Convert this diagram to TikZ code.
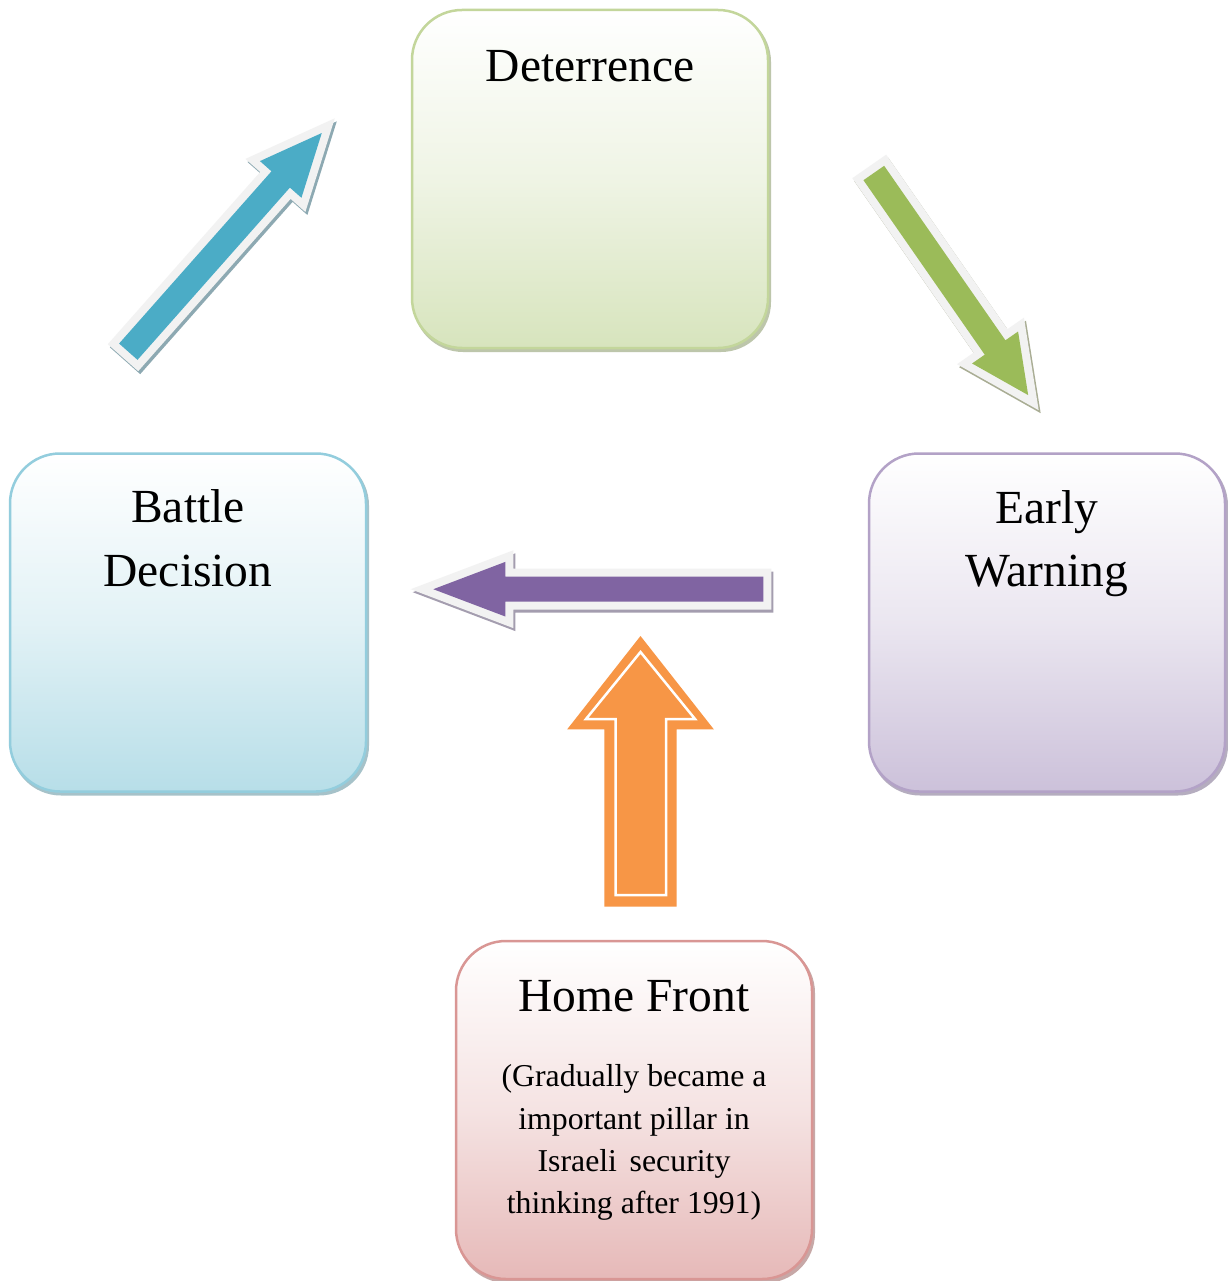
\documentclass[tikz,border=0pt]{standalone}
\usepackage{fontspec}
\setmainfont{Liberation Serif}
\definecolor{detb}{HTML}{C3D69B}
\definecolor{detf}{HTML}{D7E4BD}
\definecolor{batb}{HTML}{93CDDD}
\definecolor{batf}{HTML}{B7DEE8}
\definecolor{earb}{HTML}{B3A2C7}
\definecolor{earf}{HTML}{CCC1DA}
\definecolor{homb}{HTML}{D99694}
\definecolor{homf}{HTML}{E6B9B8}
\definecolor{arrblue}{HTML}{4BACC6}
\definecolor{arrgreen}{HTML}{9BBB59}
\definecolor{arrpurple}{HTML}{8064A2}
\definecolor{arrorange}{HTML}{F79646}
\definecolor{arrwhite}{HTML}{F2F2F2}
\definecolor{shblue}{HTML}{8DA9B2}
\definecolor{shgreen}{HTML}{A9AD94}
\definecolor{shpurple}{HTML}{A49DAF}
\tikzset{
  box/.style={rounded corners=50, line width=2.5, minimum width=356, minimum height=338, inner sep=0},
  boxshadow/.style={rounded corners=50, draw=none, minimum width=358, minimum height=340, inner sep=0},
  big/.style={font=\fontsize{47.5}{57}\selectfont, inner sep=0, anchor=base},
  small/.style={font=\fontsize{31.8}{38}\selectfont, inner sep=0, anchor=base},
}
% #1 x, #2 y (tail centre), #3 angle, #4 length, #5 half shaft, #6 half head, #7 head length, #8 fill, #9 shadow
\newcommand\blkarrow[9]{%
  \begin{scope}[shift={(#1+2,#2+3)},rotate=#3]
    \filldraw[draw=#9,fill=#9,line width=16,line join=miter]
      (0,#5)--({#4-#7},#5)--({#4-#7},#6)--(#4,0)--({#4-#7},-#6)--({#4-#7},-#5)--(0,-#5)--cycle;
  \end{scope}
  \begin{scope}[shift={(#1,#2)},rotate=#3]
    \filldraw[draw=arrwhite,fill=arrwhite,line width=16,line join=miter]
      (0,#5)--({#4-#7},#5)--({#4-#7},#6)--(#4,0)--({#4-#7},-#6)--({#4-#7},-#5)--(0,-#5)--cycle;
    \fill[#8]
      (0,#5)--({#4-#7},#5)--({#4-#7},#6)--(#4,0)--({#4-#7},-#6)--({#4-#7},-#5)--(0,-#5)--cycle;
  \end{scope}}
\begin{document}
\begin{tikzpicture}[x=1pt,y=-1pt]
\useasboundingbox[fill=white] (0,0) rectangle (1227,1281);
% box shadows
\node[boxshadow, fill=detf!70!gray] (detsh) at (592,182) {};
\node[boxshadow, fill=batf!70!gray] (batsh) at (190,625.5) {};
\node[boxshadow, fill=earf!70!gray] (earsh) at (1049,625.5) {};
\node[boxshadow, fill=homf!70!gray] (homsh) at (636,1113) {};
% boxes
\node[box, draw=detb, top color=white, bottom color=detf, middle color=detf!40!white] (det) at (590,179) {};
\node[box, draw=batb, top color=white, bottom color=batf, middle color=batf!40!white] (bat) at (188,622.5) {};
\node[box, draw=earb, top color=white, bottom color=earf, middle color=earf!40!white] (ear) at (1047,622.5) {};
\node[box, draw=homb, top color=white, bottom color=homf, middle color=homf!40!white] (hom) at (634,1110) {};
% labels
\node[big] (detl) at (590,81.7) {Deterrence};
\node[big] (batl1) at (188,522.7) {Battle};
\node[big] (batl2) at (188,586.7) {Decision};
\node[big] (earl1) at (1047,523.3) {Early};
\node[big] (earl2) at (1047,586.7) {Warning};
\node[big] (homl) at (634,1011.7) {Home Front};
\node[small] (hom1) at (634,1086.7) {(Gradually became a};
\node[small] (hom2) at (634,1129.3) {important pillar in};
\node[small] (hom3) at (634,1171.7) {Israeli\hspace{0.4em}security};
\node[small] (hom4) at (634,1213.3) {thinking after 1991)};
% block arrows
\blkarrow{128.3}{351.7}{48.5}{292}{12.3}{27.7}{62}{arrblue}{shblue}
\blkarrow{873.8}{173}{-55.2}{270.5}{12.6}{28}{58}{arrgreen}{shgreen}
\blkarrow{763.3}{589.2}{180}{330}{12.5}{27.3}{72}{arrpurple}{shpurple}
% orange arrow
\fill[arrorange] (640.5,636)--(713.8,729.3)--(676.7,729.3)--(676.7,906.7)--(604.3,906.7)--(604.3,729.3)--(567.2,729.3)--cycle;
\draw[white, line width=2.5, line join=miter] (640.5,652)--(695,719)--(666,719)--(666,895)--(615.5,895)--(615.5,719)--(586,719)--cycle;
\end{tikzpicture}
\end{document}
